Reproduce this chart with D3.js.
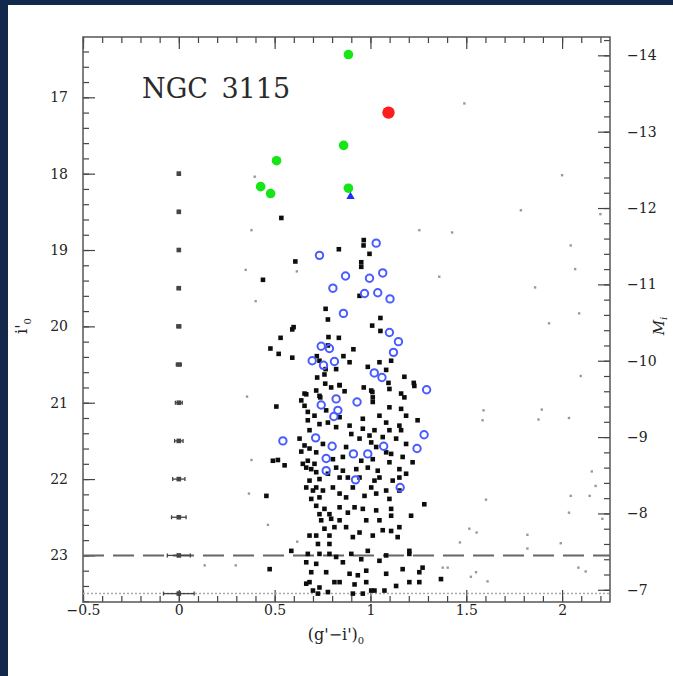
<!DOCTYPE html>
<html>
<head>
<meta charset="utf-8">
<script src="https://cdn.jsdelivr.net/npm/d3@7"></script>
<style>
  html, body { margin: 0; padding: 0; background: #13294b; }
  svg { display: block; }
</style>
</head>
<body>
<svg id="chart"></svg>
<script>
"use strict";

// colour (g'-i')0 , magnitude i'0
const rgbStars = [
  [0.965, 18.87], [0.964, 18.94], [0.835, 18.99], [0.995, 19.05], [0.608, 19.15], [0.952, 19.16],
  [0.952, 19.22], [0.439, 19.39], [0.943, 19.60], [0.766, 19.77], [0.778, 19.91], [1.052, 19.89],
  [1.009, 19.99], [0.599, 20.01], [0.592, 20.04], [1.052, 20.06], [0.531, 20.15], [0.781, 20.14],
  [0.835, 20.15], [0.478, 20.29], [0.521, 20.36], [0.592, 20.41], [0.911, 20.30], [0.778, 20.25],
  [0.859, 20.39], [0.720, 20.39], [0.734, 20.45], [0.891, 20.47], [0.766, 20.56], [0.821, 20.56],
  [0.986, 20.53], [1.047, 20.47], [1.082, 20.57], [1.108, 20.45], [0.722, 20.67], [0.760, 20.63],
  [0.764, 20.75], [0.795, 20.80], [0.839, 20.77], [0.865, 20.85], [0.965, 20.80], [1.010, 20.86],
  [1.094, 20.74], [1.177, 20.66], [1.226, 20.74], [1.229, 20.78], [0.665, 20.89], [0.738, 20.93],
  [1.012, 20.93], [1.177, 20.93], [0.639, 20.97], [0.717, 20.84], [0.673, 21.12], [0.509, 21.05],
  [0.769, 21.10], [1.012, 20.99], [1.099, 21.06], [1.160, 21.08], [1.186, 21.17], [1.246, 21.23],
  [1.047, 21.17], [0.960, 21.21], [1.082, 21.26], [1.151, 21.30], [0.673, 21.23], [0.734, 21.28],
  [0.821, 21.32], [0.891, 21.30], [0.960, 21.34], [1.021, 21.36], [1.099, 21.36], [1.160, 21.36],
  [0.995, 21.43], [1.064, 21.45], [1.134, 21.47], [0.682, 21.36], [0.630, 21.47], [0.752, 21.54],
  [0.873, 21.58], [0.682, 21.60], [0.639, 21.64], [1.030, 21.58], [1.082, 21.65], [1.108, 21.67],
  [1.168, 21.71], [1.220, 21.78], [0.491, 21.76], [0.517, 21.75], [0.552, 21.82], [0.673, 21.76],
  [0.665, 21.85], [0.691, 21.87], [0.717, 21.91], [0.734, 22.00], [0.821, 21.85], [0.856, 21.89],
  [0.882, 21.98], [0.926, 21.87], [0.986, 21.85], [1.038, 21.89], [1.047, 21.98], [1.151, 21.87],
  [1.151, 21.98], [0.665, 22.11], [0.717, 22.11], [0.752, 22.15], [0.839, 22.19], [0.873, 22.24],
  [0.969, 22.22], [1.004, 22.11], [1.082, 22.15], [1.099, 22.26], [0.457, 22.22], [0.691, 22.26],
  [0.717, 22.35], [0.760, 22.39], [0.786, 22.46], [0.882, 22.44], [0.917, 22.37], [0.960, 22.39],
  [1.108, 22.39], [1.212, 22.48], [1.281, 22.33], [1.108, 22.48], [1.151, 22.63], [0.795, 22.52],
  [0.812, 22.63], [0.873, 22.63], [0.943, 22.70], [1.012, 22.74], [1.064, 22.67], [1.108, 22.68],
  [0.682, 22.74], [0.717, 22.74], [0.726, 22.85], [0.786, 22.74], [0.786, 22.85], [0.587, 22.94],
  [0.673, 22.98], [0.717, 23.11], [0.665, 23.09], [0.821, 23.02], [0.856, 23.09], [0.900, 22.98],
  [0.952, 23.05], [1.047, 23.07], [1.203, 22.94], [1.203, 22.98], [0.474, 23.18], [1.168, 23.18],
  [1.272, 23.16], [0.891, 23.24], [0.934, 23.26], [0.682, 23.35], [0.734, 23.42], [0.812, 23.35],
  [0.839, 23.35], [0.917, 23.38], [1.021, 23.46], [1.073, 23.46], [1.203, 23.35], [1.255, 23.35],
  [1.368, 23.31], [0.778, 23.48], [0.700, 23.46], [0.960, 23.50], [0.535, 18.58],
  [0.656, 20.88], [0.734, 20.91], [0.839, 20.77], [1.004, 20.84], [1.099, 20.82], [1.160, 20.88],
  [0.656, 21.04], [0.708, 21.17], [0.778, 21.26], [0.839, 21.19], [0.900, 21.41], [0.943, 21.47],
  [1.004, 21.52], [1.186, 21.54], [0.656, 21.56], [0.717, 21.65], [0.804, 21.74], [0.856, 21.71],
  [0.952, 21.76], [1.012, 21.74], [1.099, 21.78], [0.647, 21.80], [0.708, 21.80], [0.778, 21.93],
  [0.839, 21.98], [0.943, 21.98], [1.021, 22.02], [1.116, 22.02], [1.186, 21.93], [0.682, 22.02],
  [0.700, 22.15], [0.804, 22.11], [0.908, 22.11], [1.030, 22.19], [1.151, 22.15], [0.734, 22.24],
  [0.734, 22.46], [0.839, 22.37], [1.030, 22.41], [0.743, 22.54], [0.839, 22.54], [0.978, 22.54],
  [1.047, 22.54], [0.760, 22.65], [0.908, 22.76], [1.142, 22.76], [0.734, 22.98], [0.786, 22.98],
  [0.986, 22.94], [1.082, 23.00], [0.691, 23.22], [0.769, 23.22], [0.978, 23.20], [1.082, 23.24],
  [1.255, 23.22], [0.665, 23.37], [0.978, 23.35], [1.134, 23.40], [0.726, 23.50], [0.908, 23.50],
  [1.004, 23.46]
];

const blueCircles = [
  [1.030, 18.91], [0.734, 19.07], [0.870, 19.34], [0.995, 19.37], [1.064, 19.30], [0.804, 19.50],
  [0.969, 19.57], [1.038, 19.56], [1.102, 19.64], [0.859, 19.83], [1.099, 20.08], [1.146, 20.20],
  [1.120, 20.34], [0.743, 20.26], [0.786, 20.29], [0.696, 20.45], [0.755, 20.51], [0.812, 20.46],
  [1.020, 20.61], [1.060, 20.67], [1.293, 20.83], [0.821, 20.95], [0.930, 20.99], [0.743, 21.03],
  [0.830, 21.10], [0.809, 21.18], [0.543, 21.50], [0.714, 21.46], [0.800, 21.57], [1.280, 21.42],
  [1.243, 21.60], [0.769, 21.73], [0.911, 21.67], [0.986, 21.67], [1.069, 21.57], [0.769, 21.89],
  [0.922, 22.01], [1.155, 22.11]
];

const greenStars = [[0.885, 16.44], [0.510, 17.83], [0.860, 17.63], [0.427, 18.17], [0.479, 18.26], [0.885, 18.19]];
const redStars = [[1.094, 17.20]];
const blueTriangles = [[0.896, 18.30]];

// faint field sources
const fieldStars = [
  [1.490, 17.08], [2.000, 18.02], [1.785, 18.48], [1.426, 18.77], [2.045, 18.94], [2.068, 19.25],
  [1.359, 19.35], [1.859, 19.49], [2.089, 19.83], [1.932, 19.96], [2.200, 18.53], [2.097, 20.65],
  [1.590, 21.10], [1.585, 21.23], [1.894, 21.09], [1.877, 21.22], [2.036, 21.20], [1.603, 22.27],
  [2.155, 21.90], [2.175, 22.09], [2.045, 22.22], [2.144, 22.22], [2.036, 22.44], [2.210, 22.52],
  [1.516, 22.65], [1.554, 22.70], [1.467, 22.83], [1.819, 22.73], [1.819, 22.91], [1.993, 22.84],
  [1.403, 23.16], [1.377, 23.16], [1.551, 23.22], [1.524, 23.28], [1.611, 23.34], [2.085, 23.16],
  [2.123, 23.21], [0.379, 18.74], [1.255, 18.74], [0.349, 19.26], [0.616, 19.28], [0.401, 19.67],
  [0.356, 20.92], [0.379, 21.75], [0.366, 22.19], [0.465, 22.60], [0.618, 22.82], [0.135, 23.13],
  [0.297, 23.13], [0.396, 18.04]
];

// photometric errors in colour at x = 0
const errMags = [18, 18.5, 19, 19.5, 20, 20.5, 21, 21.5, 22, 22.5, 23, 23.5];
const errColor = [0.004, 0.005, 0.006, 0.008, 0.010, 0.013, 0.018, 0.022, 0.032, 0.038, 0.060, 0.080];

const xTickVals = [-0.5, 0, 0.5, 1, 1.5, 2];
const xTickLabels = ["\u22120.5", "0", "0.5", "1", "1.5", "2"];
const yTickVals = [17, 18, 19, 20, 21, 22, 23];
const mTickVals = [-14, -13, -12, -11, -10, -9, -8, -7];
const limitLines = [23, 23.5];

const distMod = 30.45;
const cont = { width: 673, height: 676, left: 83, right: 610, top: 37, bottom: 602 };
const tickFont = "DejaVu Serif";

let svg = d3.select("#chart")
    .attr("width", cont.width)
    .attr("height", cont.height);

let defs = svg.append("defs");
defs.append("filter").attr("id", "soft")
    .attr("x", "-50%").attr("y", "-50%").attr("width", "200%").attr("height", "200%")
    .append("feGaussianBlur").attr("stdDeviation", 0.55);

svg.append("rect")
    .attr("width", cont.width).attr("height", cont.height)
    .attr("fill", "#13294b");
svg.append("rect")
    .attr("x", 8).attr("y", 5)
    .attr("width", cont.width - 8).attr("height", cont.height - 5)
    .attr("fill", "#ffffff");

let xScale = d3.scaleLinear().domain([-0.5, 2.25]).range([cont.left, cont.right]);
let yScale = d3.scaleLinear().domain([16.21, 23.61]).range([cont.top, cont.bottom]);
let mScale = d3.scaleLinear().domain([16.21 - distMod, 23.61 - distMod]).range([cont.top, cont.bottom]);

function styleAxis(g) {
    g.select(".domain").remove();
    g.selectAll("line").attr("stroke", "#444").attr("stroke-width", 1.2);
    g.selectAll("text")
        .attr("font-family", tickFont)
        .attr("font-size", 14)
        .attr("fill", "#222");
}

function addAxis(axis, tx, ty) {
    svg.append("g")
        .attr("transform", "translate(" + tx + "," + ty + ")")
        .call(axis)
        .call(styleAxis);
}

let xMinor = d3.range(-0.5, 2.2501, 0.1);
let yMinor = d3.range(16.4, 23.61, 0.2);
let mMinor = d3.range(-14.2, -6.85, 0.2);

// minor ticks, inward
addAxis(d3.axisBottom(xScale).tickValues(xMinor).tickFormat("").tickSize(-6), 0, cont.bottom);
addAxis(d3.axisTop(xScale).tickValues(xMinor).tickFormat("").tickSize(-6), 0, cont.top);
addAxis(d3.axisLeft(yScale).tickValues(yMinor).tickFormat("").tickSize(-6), cont.left, 0);
addAxis(d3.axisRight(mScale).tickValues(mMinor).tickFormat("").tickSize(-6), cont.right, 0);

// major ticks with labels
addAxis(d3.axisBottom(xScale).tickValues(xTickVals)
    .tickFormat((d, i) => xTickLabels[i]).tickSize(-12).tickPadding(3), 0, cont.bottom);
addAxis(d3.axisTop(xScale).tickValues(xTickVals).tickFormat("").tickSize(-12), 0, cont.top);
addAxis(d3.axisLeft(yScale).tickValues(yTickVals)
    .tickFormat(d3.format("d")).tickSize(-12).tickPadding(15), cont.left, 0);
addAxis(d3.axisRight(mScale).tickValues(mTickVals)
    .tickFormat(d => "\u2212" + Math.abs(d)).tickSize(-12).tickPadding(17), cont.right, 0);

// frame
svg.append("rect")
    .attr("x", cont.left).attr("y", cont.top)
    .attr("width", cont.right - cont.left).attr("height", cont.bottom - cont.top)
    .attr("fill", "none").attr("stroke", "#555").attr("stroke-width", 1.5);

// completeness lines
svg.append("line")
    .attr("x1", cont.left).attr("x2", cont.right)
    .attr("y1", yScale(limitLines[0])).attr("y2", yScale(limitLines[0]))
    .attr("stroke", "#666").attr("stroke-width", 2)
    .attr("stroke-dasharray", "21,9");
svg.append("line")
    .attr("x1", cont.left).attr("x2", cont.right)
    .attr("y1", yScale(limitLines[1])).attr("y2", yScale(limitLines[1]))
    .attr("stroke", "#aaa").attr("stroke-width", 1.5)
    .attr("stroke-dasharray", "2,2");

let marks = svg.append("g").attr("filter", "url(#soft)");

// faint field objects
marks.append("g").selectAll("rect")
    .data(fieldStars)
    .enter()
    .append("rect")
    .attr("x", d => xScale(d[0]) - 1.2)
    .attr("y", d => yScale(d[1]) - 1.2)
    .attr("width", 2.4).attr("height", 2.4)
    .attr("fill", "#999");

// error bars
let errG = marks.append("g").attr("stroke", "#444").attr("stroke-width", 1.3);
errG.selectAll(".eb")
    .data(errMags)
    .enter()
    .append("line")
    .attr("x1", (d, i) => xScale(-errColor[i]))
    .attr("x2", (d, i) => xScale(errColor[i]))
    .attr("y1", d => yScale(d)).attr("y2", d => yScale(d));
errG.selectAll(".capl")
    .data(errMags)
    .enter()
    .append("line")
    .attr("x1", (d, i) => xScale(-errColor[i])).attr("x2", (d, i) => xScale(-errColor[i]))
    .attr("y1", d => yScale(d) - 2).attr("y2", d => yScale(d) + 2);
errG.selectAll(".capr")
    .data(errMags)
    .enter()
    .append("line")
    .attr("x1", (d, i) => xScale(errColor[i])).attr("x2", (d, i) => xScale(errColor[i]))
    .attr("y1", d => yScale(d) - 2).attr("y2", d => yScale(d) + 2);
marks.append("g").selectAll("rect")
    .data(errMags)
    .enter()
    .append("rect")
    .attr("x", xScale(0) - 2.3)
    .attr("y", d => yScale(d) - 2.3)
    .attr("width", 4.6).attr("height", 4.6)
    .attr("fill", "#444");

// RGB stars
marks.append("g").selectAll("rect")
    .data(rgbStars)
    .enter()
    .append("rect")
    .attr("x", d => xScale(d[0]) - 2.3)
    .attr("y", d => yScale(d[1]) - 2.3)
    .attr("width", 4.6).attr("height", 4.6)
    .attr("fill", "#111");

// variable / AGB candidates
marks.append("g").selectAll("circle")
    .data(blueCircles)
    .enter()
    .append("circle")
    .attr("cx", d => xScale(d[0]))
    .attr("cy", d => yScale(d[1]))
    .attr("r", 3.7)
    .attr("fill", "none")
    .attr("stroke", "#4a5cff")
    .attr("stroke-width", 2);

marks.append("g").selectAll("circle")
    .data(greenStars)
    .enter()
    .append("circle")
    .attr("cx", d => xScale(d[0]))
    .attr("cy", d => yScale(d[1]))
    .attr("r", 4.8)
    .attr("fill", "#12e612");

marks.append("g").selectAll("circle")
    .data(redStars)
    .enter()
    .append("circle")
    .attr("cx", d => xScale(d[0]))
    .attr("cy", d => yScale(d[1]))
    .attr("r", 6.2)
    .attr("fill", "#ff1a1a");

marks.append("g").selectAll("path")
    .data(blueTriangles)
    .enter()
    .append("path")
    .attr("transform", d => "translate(" + xScale(d[0]) + "," + yScale(d[1]) + ")")
    .attr("d", d3.symbol().type(d3.symbolTriangle).size(30))
    .attr("fill", "#1f33f0");

// labels
svg.append("text")
    .attr("x", 142).attr("y", 98)
    .attr("font-family", tickFont)
    .attr("font-size", 27)
    .attr("word-spacing", 5)
    .attr("fill", "#2a2a2a")
    .text("NGC 3115");

let xl = svg.append("text")
    .attr("x", 336).attr("y", 640)
    .attr("text-anchor", "middle")
    .attr("font-family", tickFont)
    .attr("font-size", 16)
    .attr("fill", "#222");
xl.append("tspan").text("(g'\u2212i')");
xl.append("tspan").attr("font-size", 10).attr("dy", 4).text("0");

let yl = svg.append("text")
    .attr("transform", "translate(27,326) rotate(-90)")
    .attr("text-anchor", "middle")
    .attr("font-family", tickFont)
    .attr("font-size", 16)
    .attr("fill", "#222");
yl.append("tspan").text("i'");
yl.append("tspan").attr("font-size", 10).attr("dy", 4).text("0");

let ml = svg.append("text")
    .attr("transform", "translate(664,326) rotate(-90)")
    .attr("text-anchor", "middle")
    .attr("font-family", tickFont)
    .attr("font-style", "italic")
    .attr("font-size", 15)
    .attr("fill", "#222");
ml.append("tspan").text("M");
ml.append("tspan").attr("font-size", 10).attr("dy", 3).text("i");
</script>
</body>
</html>
